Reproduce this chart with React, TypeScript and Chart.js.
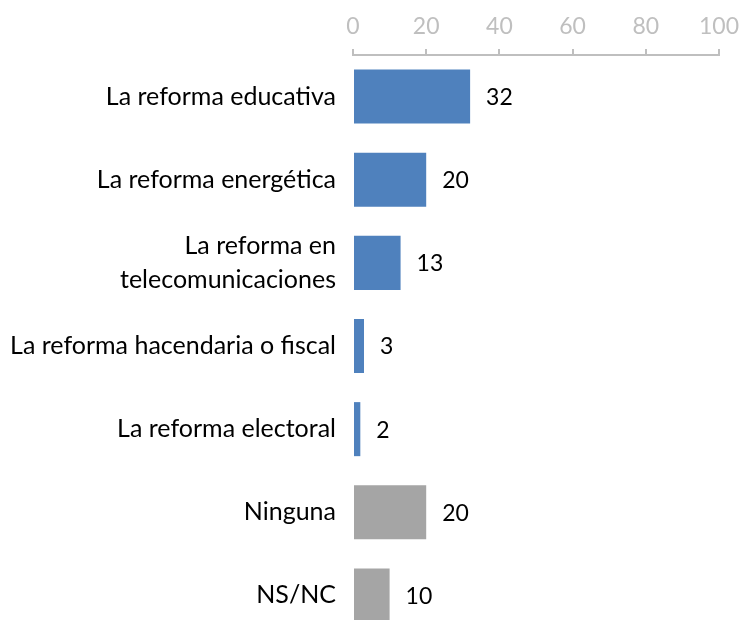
import React, { useEffect, useRef } from "react";
import { Chart, registerables } from "chart.js";

Chart.register(...registerables);

const categories: (string | string[])[] = [
  "La reforma educativa",
  "La reforma energética",
  ["La reforma en", "telecomunicaciones"],
  "La reforma hacendaria o fiscal",
  "La reforma electoral",
  "Ninguna",
  "NS/NC",
];
const values = [32, 20, 13, 3, 2, 20, 10];
const barColors = ["#4F81BD", "#4F81BD", "#4F81BD", "#4F81BD", "#4F81BD", "#A5A5A5", "#A5A5A5"];
const xTicks = [0, 20, 40, 60, 80, 100];

const FONT = "Lato, 'Open Sans', sans-serif";

const valueLabels = {
  id: "valueLabels",
  afterDatasetsDraw(chart: any) {
    const ctx = chart.ctx;
    const meta = chart.getDatasetMeta(0);
    ctx.save();
    ctx.font = `23px ${FONT}`;
    ctx.fillStyle = "#000000";
    ctx.textAlign = "left";
    ctx.textBaseline = "middle";
    meta.data.forEach((bar: any, i: number) => {
      ctx.fillText(String(values[i]), bar.x + 16, bar.y + 1);
    });
    ctx.restore();
  },
};

export default function App() {
  const ref = useRef<HTMLCanvasElement>(null);
  useEffect(() => {
    if (!ref.current) return;
    const chart = new Chart(ref.current, {
      type: "bar",
      data: {
        labels: categories,
        datasets: [
          {
            data: values,
            backgroundColor: barColors,
            borderWidth: 0,
            barPercentage: 0.65,
            categoryPercentage: 1,
          },
        ],
      },
      options: {
        indexAxis: "y",
        responsive: false,
        animation: false,
        layout: { padding: { left: 0, right: 25, top: 0, bottom: 0 } },
        plugins: { legend: { display: false }, tooltip: { enabled: false } },
        scales: {
          x: {
            position: "top",
            min: 0,
            max: 100,
            afterBuildTicks: (scale: any) => {
              scale.ticks = xTicks.map((v) => ({ value: v }));
            },
            afterFit: (scale: any) => {
              scale.height = 55;
              scale.paddingLeft = 0;
              scale.paddingRight = 0;
            },
            grid: {
              display: true,
              drawOnChartArea: false,
              drawTicks: true,
              tickLength: 6,
              color: "#BFBFBF",
              lineWidth: 2,
            },
            border: { display: true, color: "#BFBFBF", width: 2 },
            ticks: {
              color: "#BFBFBF",
              font: { family: FONT, size: 23 },
              padding: 9,
              maxRotation: 0,
            },
          },
          y: {
            afterFit: (scale: any) => {
              scale.width = 353;
              scale.paddingTop = 0;
              scale.paddingBottom = 0;
            },
            grid: { display: false, drawTicks: false },
            border: { display: false },
            ticks: {
              color: "#000000",
              font: { family: FONT, size: 25, lineHeight: 1.35 },
              padding: 17,
            },
          },
        },
      },
      plugins: [valueLabels],
    });
    return () => chart.destroy();
  }, []);
  return (
    <div
      style={{
        position: "absolute",
        left: 0,
        top: 0,
        width: 744,
        height: 620,
        overflow: "hidden",
        background: "#ffffff",
      }}
    >
      <canvas ref={ref} width={744} height={637} style={{ width: 744, height: 637, display: "block" }} />
    </div>
  );
}
